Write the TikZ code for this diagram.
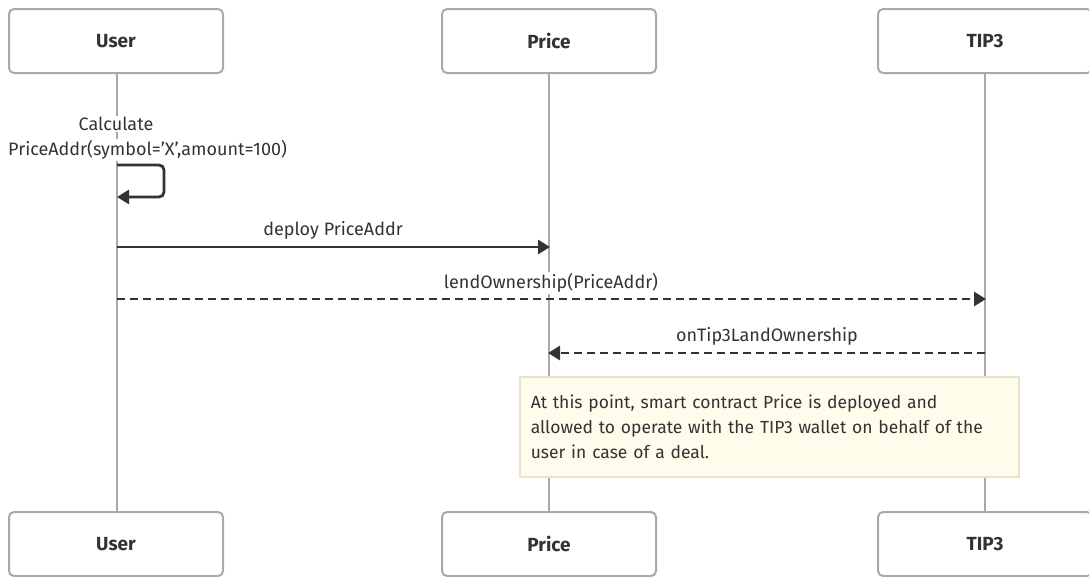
\documentclass[tikz,border=0pt]{standalone}
\usepackage{fontspec}
\setmainfont{Fira Sans}
\usetikzlibrary{arrows.meta}
\definecolor{ink}{HTML}{333333}
\definecolor{lifegray}{HTML}{A9A9A9}
\definecolor{notefill}{HTML}{FEFCEB}
\definecolor{noteedge}{HTML}{E8E4C8}
\begin{document}
\begin{tikzpicture}[x=1pt,y=-1pt,
  actor/.style={draw=lifegray, line width=2pt, rounded corners=5pt, fill=white,
    minimum width=214pt, minimum height=64pt, text=ink,
    font=\fontsize{19}{22}\selectfont\bfseries},
  life/.style={draw=lifegray, line width=2pt},
  msg/.style={draw=ink, line width=2.8pt, -{Triangle[length=12pt,width=14pt]}},
  async/.style={msg, dash pattern=on 8pt off 5pt},
  lbl/.style={font=\fontsize{18}{26}\selectfont, text=ink, fill=white, inner sep=1pt},
  note/.style={draw=noteedge, fill=notefill, line width=1.5pt, anchor=north west,
    minimum width=499pt, minimum height=100pt, text width=477pt, inner xsep=11pt,
    align=left, text=ink, font=\fontsize{17.5}{25}\selectfont}]
\useasboundingbox (0,0) rectangle (1089,576);

% participants, top and bottom
\node[actor] (userTop)  at (116,41) {User};
\node[actor] (priceTop) at (549,41) {Price};
\node[actor] (tipTop)   at (985,41) {TIP3};
\node[actor] (userBot)  at (116,544) {User};
\node[actor] (priceBot) at (549,544) {Price};
\node[actor] (tipBot)   at (985,544) {TIP3};

% lifelines
\draw[life] (117,73) -- (117,512);
\draw[life] (549,73) -- (549,512);
\draw[life] (985,73) -- (985,512);

% self call on User
\node[lbl] (calcLbl) at (116,124) {Calculate};
\node[lbl, anchor=west] (calcArgs) at (7,150) {PriceAddr(symbol='X',amount=100)};
\coordinate (selfOut) at (117,165);
\coordinate (selfIn)  at (117,197);
\draw[msg, rounded corners=5pt] (selfOut) -- (164,165) -- (164,197) -- (selfIn);

% deploy
\coordinate (deployFrom) at (117,247);
\coordinate (deployTo)   at (550,247);
\node[lbl] (deployLbl) at (333,230) {deploy PriceAddr};
\draw[msg] (deployFrom) -- (deployTo);

% lend ownership
\coordinate (lendFrom) at (117,299);
\coordinate (lendTo)   at (986,299);
\node[lbl] (lendLbl) at (551,283) {lendOwnership(PriceAddr)};
\draw[async] (lendFrom) -- (lendTo);

% callback
\coordinate (cbFrom) at (985,353);
\coordinate (cbTo)   at (548,353);
\node[lbl] (cbLbl) at (767,336) {onTip3LandOwnership};
\draw[async] (cbFrom) -- (cbTo);

% note
\node[note] (noteBox) at (519,376) {At this point, smart contract Price is deployed and\\
allowed to operate with the TIP3 wallet on behalf of the\\
user in case of a deal.};
\end{tikzpicture}
\end{document}
